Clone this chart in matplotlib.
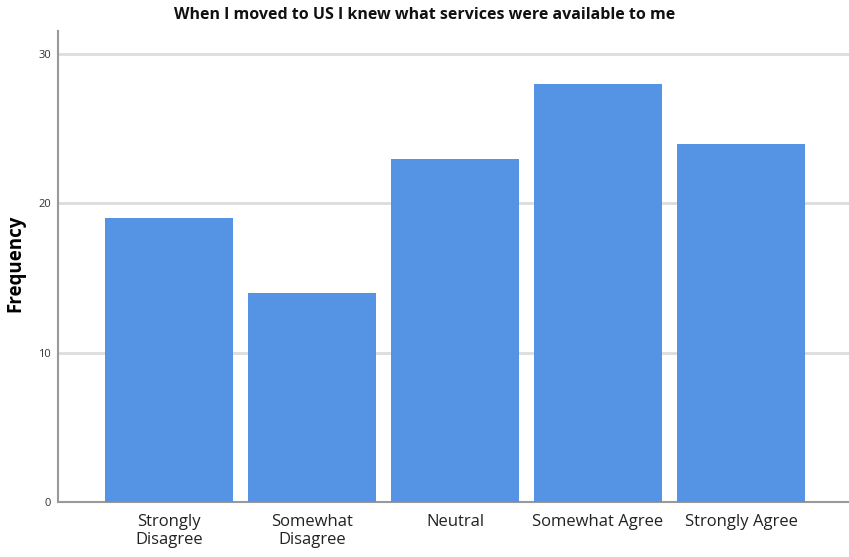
import matplotlib
matplotlib.use("Agg")
import matplotlib.pyplot as plt

categories = ["Strongly\nDisagree", "Somewhat\nDisagree", "Neutral", "Somewhat Agree", "Strongly Agree"]
frequencies = [19, 14, 23, 28, 24]
yticks = [0, 10, 20, 30]

plt.rcParams['font.family'] = ['Open Sans', 'DejaVu Sans']

fig = plt.figure(figsize=(8.49, 5.57), dpi=100)
ax = fig.add_axes([58/849, 55/557, 1 - 58/849, (502-31)/557])

x = list(range(len(categories)))
ax.bar(x, frequencies, width=0.895, color="#5594E4", zorder=3)
ax.set_xlim(-0.776, 4.755)
ax.set_ylim(0, 31.55)
ax.set_yticks(yticks)
ax.set_xticks(x)
ax.set_xticklabels(categories, fontsize=12, color="#222222", linespacing=1.15)
ax.tick_params(axis='y', labelsize=8, colors="#333333", length=0, pad=5)
ax.tick_params(axis='x', length=0, pad=9)
ax.grid(axis='y', color="#dddddd", linewidth=2, zorder=0)
for s in ["top", "right"]:
    ax.spines[s].set_visible(False)
for s in ["left", "bottom"]:
    ax.spines[s].set_color("#999999")
    ax.spines[s].set_linewidth(1.5)
ax.set_ylabel("Frequency", fontsize=13.5, fontweight="bold")
ax.yaxis.set_label_coords((25 - 58) / 791, (502 - 263) / 471)
fig.text(0.5, 1 - 15/557, "When I moved to US I knew what services were available to me",
         ha="center", va="center", fontsize=11.5, fontweight="bold", color="#111111")

fig.savefig("out.png", dpi=100)
